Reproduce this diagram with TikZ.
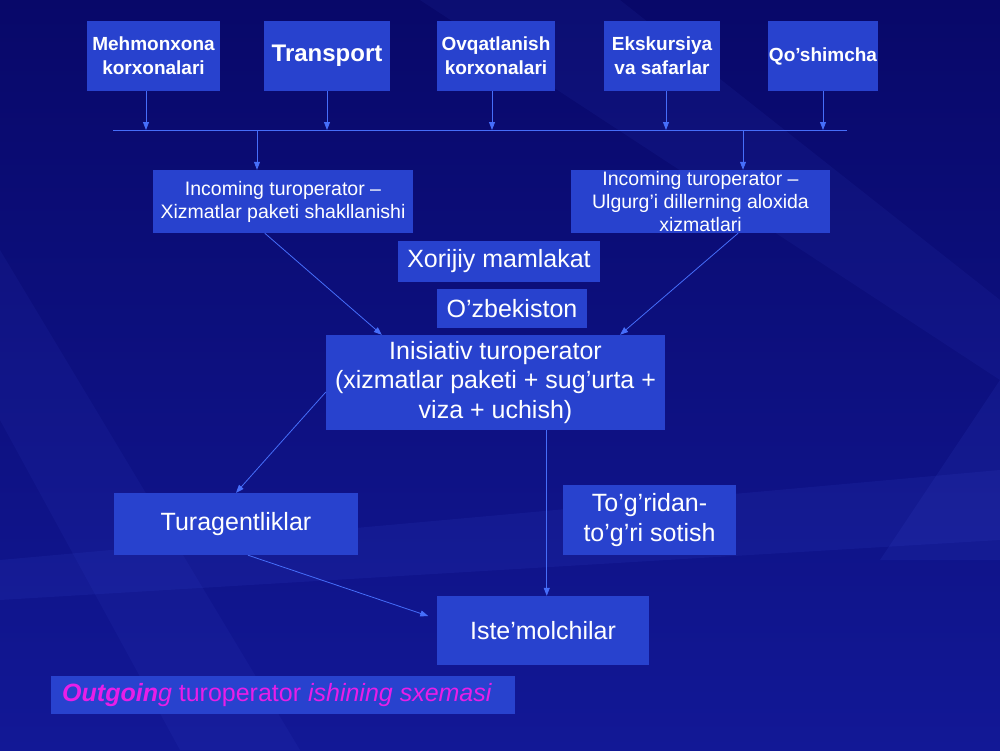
\documentclass[tikz,border=0pt]{standalone}
\usepackage{fontspec}
\setmainfont{Liberation Sans}
\usetikzlibrary{arrows.meta,calc}
\definecolor{bgtop}{RGB}{8,8,105}
\definecolor{bgbot}{RGB}{18,24,150}
\definecolor{streak}{RGB}{70,90,230}
\definecolor{boxfill}{RGB}{40,66,206}
\definecolor{conn}{RGB}{70,110,250}
\definecolor{mag}{RGB}{232,30,232}
\begin{document}
\begin{tikzpicture}[x=1pt,y=-1pt,
  box/.style={fill=boxfill, draw=none, text=white, inner sep=0pt, align=center},
  topbox/.style={box, font=\bfseries\fontsize{19}{24}\selectfont, minimum height=70pt},
  midbox/.style={box, font=\fontsize{19.5}{23}\selectfont, minimum height=63pt},
  bigbox/.style={box, font=\fontsize{25}{29.5}\selectfont},
  arr/.style={draw=conn, line width=0.8pt, -{Triangle[length=8pt,width=6pt]}},
  ln/.style={draw=conn, line width=0.8pt}]
\useasboundingbox (0,0) rectangle (1000,750);
% background
\shade[top color=bgtop, bottom color=bgbot] (0,0) rectangle (1000,750);
\fill[streak, opacity=0.10] (0,560) -- (1000,470) -- (1000,540) -- (0,600) -- cycle;
\fill[streak, opacity=0.10] (1000,380) -- (880,560) -- (1000,560) -- cycle;
\fill[streak, opacity=0.08] (420,0) -- (620,0) -- (1000,300) -- (1000,380) -- cycle;
\fill[streak, opacity=0.08] (0,250) -- (300,750) -- (180,750) -- (0,420) -- cycle;

% top row
\node[topbox, minimum width=133pt] (m1) at (153.5,56) {Mehmonxona\\korxonalari};
\node[box, font=\bfseries\fontsize{24}{28}\selectfont, minimum width=126pt, minimum height=70pt] (m2) at (327,56) {Transport};
\node[topbox, minimum width=118pt] (m3) at (496,56) {Ovqatlanish\\korxonalari};
\node[topbox, minimum width=116pt] (m4) at (662,56) {Ekskursiya\\va safarlar};
\node[topbox, minimum width=110pt] (m5) at (823,56) {Qo’shimcha};

% bus
\coordinate (busL) at (113,130);
\coordinate (busR) at (847,130);
\coordinate (b1) at (146,130);
\coordinate (b2) at (327,130);
\coordinate (b3) at (492,130);
\coordinate (b4) at (666,130);
\coordinate (b5) at (823,130);
\coordinate (b6) at (257,130);
\coordinate (b7) at (743,130);
\draw[ln] (busL) -- (busR);
\draw[arr] (m1.south -| b1) -- (b1);
\draw[arr] (m2.south -| b2) -- (b2);
\draw[arr] (m3.south -| b3) -- (b3);
\draw[arr] (m4.south -| b4) -- (b4);
\draw[arr] (m5.south -| b5) -- (b5);

% incoming
\node[midbox, minimum width=260pt] (i1) at (283,201.5) {Incoming turoperator –\\Xizmatlar paketi shakllanishi};
\node[midbox, minimum width=259pt] (i2) at (700.5,201.5) {Incoming turoperator –\\Ulgurg’i dillerning aloxida\\xizmatlari};
\draw[arr] (b6) -- (b6 |- i1.north);
\draw[arr] (b7) -- (b7 |- i2.north);

% middle
\node[bigbox, minimum width=202pt, minimum height=41pt] (xm) at (499,261.5) {Xorijiy mamlakat};
\node[bigbox, minimum width=150pt, minimum height=39pt] (uz) at (512,308.5) {O’zbekiston};
\node[bigbox, minimum width=339pt, minimum height=95pt] (ini) at (495.5,382.5) {Inisiativ turoperator\\(xizmatlar paketi + sug’urta +\\viza + uchish)};

\draw[arr] ($(i1.south west)!0.43!(i1.south east)$) -- ($(ini.north west)!0.165!(ini.north east)$);
\draw[arr] ($(i2.south west)!0.645!(i2.south east)$) -- ($(ini.north west)!0.867!(ini.north east)$);

% lower
\node[bigbox, minimum width=244pt, minimum height=62pt] (tur) at (236,524) {Turagentliklar};
\node[bigbox, minimum width=173pt, minimum height=70pt] (tog) at (649.5,520) {To’g’ridan-\\to’g’ri sotish};
\node[bigbox, minimum width=212pt, minimum height=69pt] (ist) at (543,630.5) {Iste’molchilar};

\coordinate (iniS) at ($(ini.south west)!0.651!(ini.south east)$);
\draw[arr] ($(ini.north west)!0.6!(ini.south west)$) -- (tur.north);
\draw[arr] (iniS) -- (iniS |- ist.north);
\draw[arr, shorten >=9pt] ($(tur.south west)!0.549!(tur.south east)$) -- ($(ist.north west)!0.333!(ist.south west)$);

% title
\node[box, minimum width=464pt, minimum height=38pt] (ttl) at (283,695) {};
\node[anchor=west, inner sep=0pt, text=mag, font=\fontsize{25}{29}\selectfont] (ttltext) at (62,695)
  {\textbf{\textit{Outgoin}}\textit{g} turoperator \textit{ishining sxemasi}};
\end{tikzpicture}
\end{document}
